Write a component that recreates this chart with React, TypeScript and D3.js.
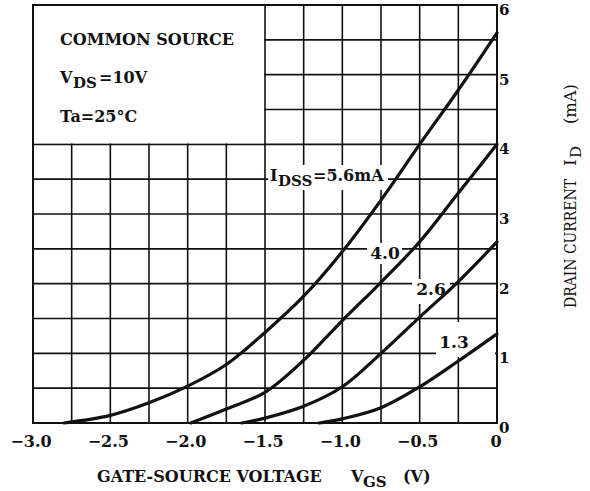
import * as d3 from 'd3'

// drain current curves (VGS in V, ID in mA)
const vgs56 = [-2.8, -2.5, -2.25, -2.0, -1.75, -1.5, -1.25, -1.0, -0.75, -0.5, -0.25, 0]
const id56 = [0, 0.11, 0.29, 0.53, 0.84, 1.3, 1.82, 2.46, 3.2, 4.0, 4.78, 5.6]

const vgs40 = [-1.98, -1.75, -1.5, -1.25, -1.0, -0.75, -0.5, -0.25, 0]
const id40 = [0, 0.2, 0.44, 0.9, 1.47, 2.02, 2.6, 3.3, 4.0]

const vgs26 = [-1.65, -1.5, -1.25, -1.0, -0.75, -0.5, -0.25, 0]
const id26 = [0, 0.07, 0.24, 0.52, 1.0, 1.52, 2.03, 2.6]

const vgs13 = [-1.15, -1.0, -0.75, -0.5, -0.25, 0]
const id13 = [0, 0.06, 0.22, 0.52, 0.89, 1.28]

const xTicks = [-3.0, -2.5, -2.0, -1.5, -1.0, -0.5, 0]
const yTicks = [0, 1, 2, 3, 4, 5, 6]

const W = 590
const H = 491
const FONT = '"DejaVu Serif", serif'

export default function App() {
  const x = d3.scaleLinear().domain([-3, 0]).range([33, 497])
  const y = d3.scaleLinear().domain([0, 6]).range([423, 5])

  const line = d3.line<[number, number]>()
    .x((d) => x(d[0]))
    .y((d) => y(d[1]))
    .curve(d3.curveCatmullRom.alpha(0.5))

  const curves = [
    d3.zip(vgs56, id56),
    d3.zip(vgs40, id40),
    d3.zip(vgs26, id26),
    d3.zip(vgs13, id13),
  ] as [number, number][][]

  const vLines = d3.range(-3, 0.001, 0.25)
  const hLines = d3.range(0, 6.001, 0.5)

  const fmt = (v: number) => (v === 0 ? '0' : '\u2212' + Math.abs(v).toFixed(1))

  return (
    <svg width={W} height={H} style={{ position: 'absolute', left: 0, top: 0, background: '#fff' }}
      fontFamily={FONT} fontWeight="bold" fill="#111">
      <rect width={W} height={H} fill="#fff" />

      {/* grid */}
      <g stroke="#111" strokeWidth={1.6}>
        {vLines.map((v) => (
          <line key={'v' + v} x1={x(v)} x2={x(v)} y1={y(0)} y2={y(6)} />
        ))}
        {hLines.map((h) => (
          <line key={'h' + h} x1={x(-3)} x2={x(0)} y1={y(h)} y2={y(h)} />
        ))}
      </g>

      {/* legend box over the grid */}
      <rect x={x(-3) + 1} y={y(6) + 1} width={x(-1.5) - x(-3) - 2} height={y(4) - y(6) - 2} fill="#fff" />

      {/* label backgrounds breaking the grid */}
      <g fill="#fff">
        <rect x={268} y={165} width={120} height={25} />
        <rect x={367} y={243} width={35} height={21} />
        <rect x={412} y={279} width={38} height={25} />
        <rect x={436} y={322} width={59} height={35} />
      </g>

      {/* frame */}
      <rect x={x(-3)} y={y(6)} width={x(0) - x(-3)} height={y(0) - y(6)} fill="none" stroke="#111" strokeWidth={2} />

      {/* curves */}
      <g fill="none" stroke="#111" strokeWidth={3.2} strokeLinecap="round">
        {curves.map((c, i) => (
          <path key={i} d={line(c) ?? ''} />
        ))}
      </g>

      {/* legend text */}
      <g fontSize={16}>
        <text x={60} y={45}>COMMON SOURCE</text>
        <text x={60} y={83}>V</text>
        <text x={73} y={88} fontSize={15}>DS</text>
        <text x={99} y={83}>=10V</text>
        <text x={60} y={122}>Ta=25°C</text>
      </g>

      {/* curve labels */}
      <g fontSize={16}>
        <text x={270} y={181}>I</text>
        <text x={278} y={186} fontSize={15}>DSS</text>
        <text x={313} y={181}>=5.6mA</text>
        <text x={385} y={259} textAnchor="middle" fontSize={17}>4.0</text>
        <text x={431} y={295} textAnchor="middle" fontSize={17}>2.6</text>
        <text x={454} y={348} textAnchor="middle" fontSize={17}>1.3</text>
      </g>

      {/* x tick labels */}
      <g fontSize={16} textAnchor="middle">
        {xTicks.map((t) => (
          <text key={t} x={x(t) - (t === 0 ? 1 : 2)} y={447}>{fmt(t)}</text>
        ))}
      </g>

      {/* right tick labels */}
      <g fontSize={15}>
        {yTicks.map((t) => (
          <text key={t} x={499} y={y(t) + 10}>{t}</text>
        ))}
      </g>

      {/* x title */}
      <g fontSize={16}>
        <text x={97} y={482}>GATE-SOURCE VOLTAGE</text>
        <text x={351} y={482}>V</text>
        <text x={363} y={487} fontSize={15}>GS</text>
        <text x={403} y={482}>(V)</text>
      </g>

      {/* y title */}
      <g transform="translate(576,308) rotate(-90)" fontWeight="normal" fontSize={17}>
        <text x={0} y={0} textLength={129} lengthAdjust="spacingAndGlyphs">DRAIN CURRENT</text>
        <text x={142} y={0}>I</text>
        <text x={150} y={5} fontSize={15}>D</text>
        <text x={184} y={0} textLength={40} lengthAdjust="spacingAndGlyphs">(mA)</text>
      </g>
    </svg>
  )
}
